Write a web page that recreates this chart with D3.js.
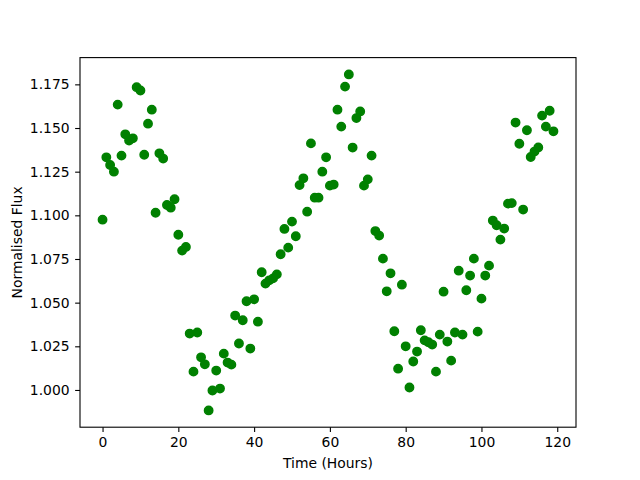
<!DOCTYPE html>
<html>
<head>
<meta charset="utf-8">
<script src="https://cdn.jsdelivr.net/npm/d3@7"></script>
<style>
    body { margin: 0; background: #fff; }
    svg { display: block; font-family: "DejaVu Sans", sans-serif; }
</style>
</head>
<body>
<script>
// time in hours, one reading per hour
const hours = [
    0, 1, 2, 3, 4, 5, 6, 7, 8, 9, 10, 11, 12, 13, 14, 15, 16, 17, 18, 19,
    20, 21, 22, 23, 24, 25, 26, 27, 28, 29, 30, 31, 32, 33, 34, 35, 36, 37, 38, 39,
    40, 41, 42, 43, 44, 45, 46, 47, 48, 49, 50, 51, 52, 53, 54, 55, 56, 57, 58, 59,
    60, 61, 62, 63, 64, 65, 66, 67, 68, 69, 70, 71, 72, 73, 74, 75, 76, 77, 78, 79,
    80, 81, 82, 83, 84, 85, 86, 87, 88, 89, 90, 91, 92, 93, 94, 95, 96, 97, 98, 99,
    100, 101, 102, 103, 104, 105, 106, 107, 108, 109, 110, 111, 112, 113, 114, 115, 116, 117, 118, 119
]

const flux = [
    1.0975, 1.1332, 1.1288, 1.1250, 1.1634, 1.1342, 1.1464, 1.1428, 1.1441, 1.1734,
    1.1715, 1.1347, 1.1525, 1.1605, 1.1015, 1.1355, 1.1325, 1.1059, 1.1044, 1.1092,
    1.0889, 1.0798, 1.0819, 1.0323, 1.0105, 1.0329, 1.0187, 1.0147, 0.9883, 0.9997,
    1.0111, 1.0008, 1.0208, 1.0157, 1.0145, 1.0426, 1.0266, 1.0399, 1.0508, 1.0237,
    1.0519, 1.0391, 1.0674, 1.0609, 1.0628, 1.0639, 1.0662, 1.0777, 1.0922, 1.0815,
    1.0964, 1.0880, 1.1173, 1.1212, 1.1021, 1.1412, 1.1101, 1.1101, 1.1250, 1.1332,
    1.1170, 1.1176, 1.1605, 1.1508, 1.1737, 1.1807, 1.1388, 1.1557, 1.1595, 1.1170,
    1.1206, 1.1342, 1.0910, 1.0884, 1.0752, 1.0565, 1.0668, 1.0336, 1.0122, 1.0603,
    1.0250, 1.0014, 1.0163, 1.0220, 1.0342, 1.0284, 1.0273, 1.0260, 1.0105, 1.0317,
    1.0563, 1.0277, 1.0168, 1.0329, 1.0683, 1.0317, 1.0571, 1.0655, 1.0752, 1.0334,
    1.0523, 1.0655, 1.0712, 1.0970, 1.0943, 1.0861, 1.0924, 1.1067, 1.1070, 1.1531,
    1.1410, 1.1033, 1.1487, 1.1334, 1.1365, 1.1389, 1.1571, 1.1508, 1.1599, 1.1481
]

const xTicks = [0, 20, 40, 60, 80, 100, 120]
const yTicks = [1.000, 1.025, 1.050, 1.075, 1.100, 1.125, 1.150, 1.175]

const xLabel = 'Time (Hours)'
const yLabel = 'Normalised Flux'

const width = 640
const height = 480
const margin = {top: 57.6, right: 64, bottom: 52.8, left: 80}
const fontSize = 13.9
const tick = 4.86

// matplotlib style 5% padding around the data
const pad = (ext) => {
    const d = (ext[1] - ext[0]) * 0.05
    return [ext[0] - d, ext[1] + d]
}

const points = hours.map((h, i) => ({h, f: flux[i]}))

const x = d3.scaleLinear()
    .domain(pad(d3.extent(hours)))
    .range([margin.left, width - margin.right])

const y = d3.scaleLinear()
    .domain(pad(d3.extent(flux)))
    .range([height - margin.bottom, margin.top])

const svg = d3.select('body').append('svg')
    .attr('width', width)
    .attr('height', height)
    .style('font-size', fontSize + 'px')

svg.append('g')
    .selectAll('circle')
    .data(points)
    .join('circle')
    .attr('cx', d => x(d.h))
    .attr('cy', d => y(d.f))
    .attr('r', 4.17)
    .attr('fill', 'green')
    .attr('stroke', 'green')
    .attr('stroke-width', 1.5)

const xAxis = svg.append('g')
    .attr('transform', `translate(0,${height - margin.bottom})`)
    .call(d3.axisBottom(x).tickValues(xTicks).tickFormat(d3.format('d')).tickSize(tick).tickSizeOuter(0).tickPadding(5))

const yAxis = svg.append('g')
    .attr('transform', `translate(${margin.left},0)`)
    .call(d3.axisLeft(y).tickValues(yTicks).tickFormat(d3.format('.3f')).tickSize(tick).tickSizeOuter(0).tickPadding(5.5))

for (const g of [xAxis, yAxis]) {
    g.select('.domain').remove()
    g.selectAll('.tick line').attr('stroke', '#000').attr('stroke-width', 1.1)
    g.selectAll('.tick text')
        .attr('fill', '#000')
        .style('font-family', '"DejaVu Sans", sans-serif')
        .style('font-size', fontSize + 'px')
}

// axes frame
svg.append('rect')
    .attr('x', margin.left)
    .attr('y', margin.top)
    .attr('width', width - margin.left - margin.right)
    .attr('height', height - margin.top - margin.bottom)
    .attr('fill', 'none')
    .attr('stroke', '#000')
    .attr('stroke-width', 1.1)

svg.append('text')
    .attr('x', (margin.left + width - margin.right) / 2)
    .attr('y', 468)
    .attr('text-anchor', 'middle')
    .text(xLabel)

svg.append('text')
    .attr('transform', `translate(22,${(margin.top + height - margin.bottom) / 2}) rotate(-90)`)
    .attr('text-anchor', 'middle')
    .text(yLabel)
</script>
</body>
</html>
